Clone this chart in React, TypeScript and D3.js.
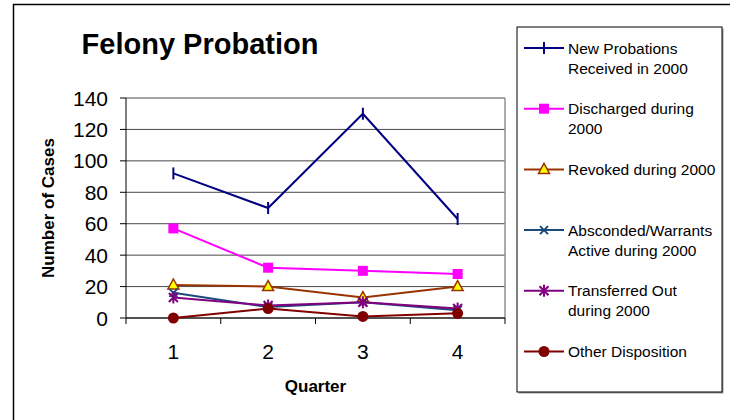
import React from "react";
import * as d3 from "d3";

// chart data
const quarters = ["1", "2", "3", "4"];
const yTicks = [0, 20, 40, 60, 80, 100, 120, 140];

const newProbations = [92, 70, 130, 63];
const discharged = [57, 32, 30, 28];
const revoked = [21, 20, 13, 20];
const absconded = [16, 7, 10, 5];
const transferred = [13, 8, 10, 6];
const otherDisposition = [0, 6, 1, 3];

const seriesNames = [
  ["New Probations", "Received in 2000"],
  ["Discharged during", "2000"],
  ["Revoked during 2000"],
  ["Absconded/Warrants", "Active during 2000"],
  ["Transferred Out", "during 2000"],
  ["Other Disposition"],
];

const seriesValues = [
  newProbations,
  discharged,
  revoked,
  absconded,
  transferred,
  otherDisposition,
];

const seriesStyle = [
  { color: "#000080", marker: "dash" },
  { color: "#FF00FF", marker: "square" },
  { color: "#993300", marker: "triangle" },
  { color: "#1A4A7A", marker: "x" },
  { color: "#800080", marker: "star" },
  { color: "#800000", marker: "circle" },
];

const font = "'Liberation Sans', Arial, sans-serif";

const Marker = ({ type, color, x, y }) => {
  switch (type) {
    case "dash":
      return (
        <line x1={x} x2={x} y1={y - 6} y2={y + 6} stroke={color} strokeWidth={2} />
      );
    case "square":
      return <rect x={x - 5} y={y - 5} width={10} height={10} fill={color} />;
    case "triangle":
      return (
        <path
          d={`M${x},${y - 6}L${x + 5.5},${y + 4}L${x - 5.5},${y + 4}Z`}
          fill="#FFFF00"
          stroke={color}
          strokeWidth={1.5}
        />
      );
    case "x":
      return (
        <path
          d={`M${x - 4},${y - 4}L${x + 4},${y + 4}M${x - 4},${y + 4}L${x + 4},${y - 4}`}
          stroke={color}
          strokeWidth={2}
        />
      );
    case "star":
      return (
        <path
          d={`M${x - 4.5},${y - 4.5}L${x + 4.5},${y + 4.5}M${x - 4.5},${y + 4.5}L${x + 4.5},${y - 4.5}M${x},${y - 6}L${x},${y + 6}`}
          stroke={color}
          strokeWidth={2}
        />
      );
    default:
      return <circle cx={x} cy={y} r={5.5} fill={color} />;
  }
};

const App = () => {
  const plot = { left: 126, right: 505, top: 98, bottom: 318 };

  // scales
  const x = d3
    .scaleBand()
    .domain(quarters)
    .range([plot.left, plot.right])
    .padding(0);
  const y = d3.scaleLinear().domain([0, 140]).range([plot.bottom, plot.top]);
  const cx = (q) => x(q) + x.bandwidth() / 2;

  const line = d3
    .line<number>()
    .x((d, i) => cx(quarters[i]))
    .y((d) => y(d));

  const boundaries = quarters.map((q) => x(q)).concat([plot.right]);

  // legend
  const legend = { left: 517, top: 27, right: 722, bottom: 392 };
  const legendY = (i) => 48 + i * 60.7;

  return (
    <svg
      width={730}
      height={420}
      style={{ position: "absolute", left: 0, top: 0, background: "#fff" }}
      fontFamily={font}
    >
      {/* outer frame */}
      <path d="M13.5,420V4.5H730" fill="none" stroke="#000" strokeWidth={1.5} />

      <text x={200} y={54} textAnchor="middle" fontSize={29} fontWeight="bold">
        Felony Probation
      </text>

      {/* gridlines */}
      {yTicks.map((t) => (
        <line
          key={t}
          x1={plot.left}
          x2={plot.right}
          y1={y(t)}
          y2={y(t)}
          stroke="#4a4a4a"
          strokeWidth={1}
        />
      ))}
      <line
        x1={plot.right}
        x2={plot.right}
        y1={plot.top}
        y2={plot.bottom}
        stroke="#909090"
        strokeWidth={1.5}
      />

      {/* y axis */}
      <line x1={plot.left} x2={plot.left} y1={plot.top} y2={plot.bottom} stroke="#000" />
      {yTicks.map((t) => (
        <g key={t}>
          <line x1={plot.left - 6} x2={plot.left} y1={y(t)} y2={y(t)} stroke="#000" />
          <text
            x={108}
            y={y(t)}
            dy="0.36em"
            textAnchor="end"
            fontSize={21}
          >
            {t}
          </text>
        </g>
      ))}
      <text
        transform={`translate(54, ${(plot.top + plot.bottom) / 2}) rotate(-90)`}
        textAnchor="middle"
        fontSize={17}
        fontWeight="bold"
      >
        Number of Cases
      </text>

      {/* x axis */}
      <line x1={plot.left} x2={plot.right} y1={plot.bottom} y2={plot.bottom} stroke="#000" />
      {boundaries.map((b, i) => (
        <line key={i} x1={b} x2={b} y1={plot.bottom} y2={plot.bottom + 6} stroke="#000" />
      ))}
      {quarters.map((q) => (
        <text key={q} x={cx(q)} y={359} textAnchor="middle" fontSize={21}>
          {q}
        </text>
      ))}
      <text
        x={(plot.left + plot.right) / 2}
        y={392}
        textAnchor="middle"
        fontSize={17}
        fontWeight="bold"
      >
        Quarter
      </text>

      {/* series */}
      {seriesValues.map((vals, s) => (
        <g key={s}>
          <path
            d={line(vals)}
            fill="none"
            stroke={seriesStyle[s].color}
            strokeWidth={2}
          />
          {vals.map((v, i) => (
            <Marker
              key={i}
              type={seriesStyle[s].marker}
              color={seriesStyle[s].color}
              x={cx(quarters[i])}
              y={y(v)}
            />
          ))}
        </g>
      ))}

      {/* legend */}
      <rect
        x={legend.left + 1.5}
        y={legend.top + 1.5}
        width={legend.right - legend.left}
        height={legend.bottom - legend.top}
        fill="#999"
      />
      <rect
        x={legend.left}
        y={legend.top}
        width={legend.right - legend.left}
        height={legend.bottom - legend.top}
        fill="#fff"
        stroke="#000"
      />
      {seriesNames.map((name, i) => (
        <g key={i}>
          <line
            x1={524}
            x2={564}
            y1={legendY(i)}
            y2={legendY(i)}
            stroke={seriesStyle[i].color}
            strokeWidth={2}
          />
          <Marker
            type={seriesStyle[i].marker}
            color={seriesStyle[i].color}
            x={544}
            y={legendY(i)}
          />
          {name.map((ln, j) => (
            <text
              key={j}
              x={568}
              y={legendY(i) + j * 20}
              dy="0.36em"
              fontSize={15.5}
            >
              {ln}
            </text>
          ))}
        </g>
      ))}
    </svg>
  );
};

export default App;
